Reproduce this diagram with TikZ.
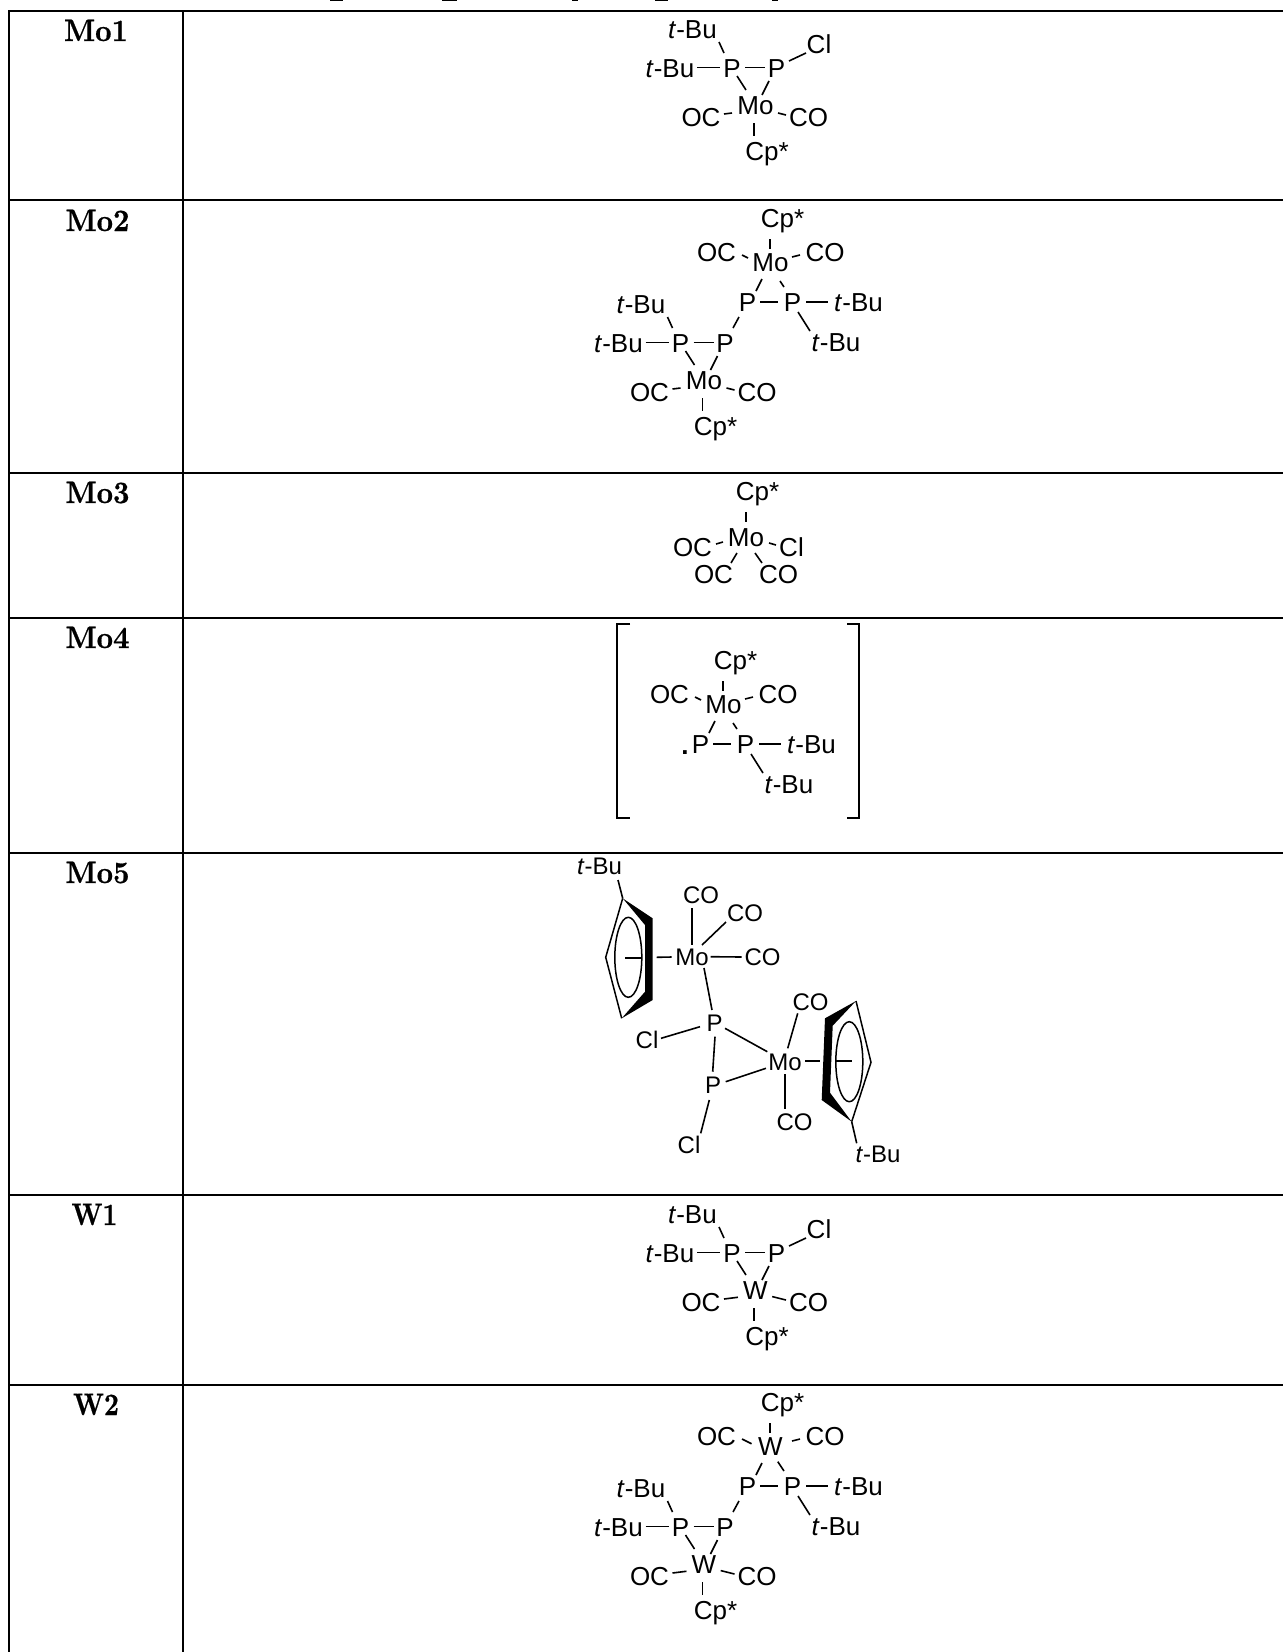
\documentclass[tikz,border=0pt]{standalone}
\usepackage{fontspec}
\usepackage{graphicx}
\usetikzlibrary{calc}
\newfontfamily\chemf{Liberation Sans}
\newfontfamily\labf[Extension=.otf,FakeBold=0.6]{lmroman10-bold}
\tikzset{
  atom/.style={inner sep=0pt,anchor=center,text height=17pt,text depth=0pt,font=\chemf\fontsize{26}{26}\selectfont},
  atomsm/.style={atom,text height=16pt,font=\chemf\fontsize{24}{24}\selectfont},
  bond/.style={line width=1.6pt},
  grid/.style={line width=2pt,line cap=butt},
  rowlab/.style={anchor=base,inner sep=0pt,font=\labf\fontsize{31}{31}\selectfont},
  ring/.style={line width=1.5pt,line join=miter},
  brack/.style={line width=1.7pt}
}
\newcommand{\tb}{\textit{t}-Bu}
\newcommand{\bd}[7][]{\draw[bond,#1] ($(#2)+(#3,#4)$) -- ($(#5)+(#6,#7)$);}
% lower unit: prefix, shift x, shift y, metal, gap
\newcommand{\lowerunit}[5]{
  \node[atom] (#1tA) at ({#2+692.5},{#3+29.5}) {\tb};
  \node[atom] (#1tB) at ({#2+670},{#3+68.5}) {\tb};
  \node[atom] (#1Pa) at ({#2+732},{#3+68.5}) {P};
  \node[atom] (#1Pb) at ({#2+776.5},{#3+68.5}) {P};
  \node[atom] (#1M)  at ({#2+755.5},{#3+106}) {#4};
  \node[atom] (#1OC) at ({#2+701},{#3+118}) {OC};
  \node[atom] (#1CO) at ({#2+808.5},{#3+118}) {CO};
  \node[atom] (#1Cp) at ({#2+767},{#3+151.5}) {Cp*};
  \bd{#1tA}{26.5}{12.5}{#1Pa}{-8}{-15.5}
  \bd{#1tB}{27}{-1}{#1Pa}{-12}{-1}
  \bd{#1Pa}{13}{-1}{#1Pb}{-11.5}{-1}
  \bd{#1Pa}{5}{7.5}{#1M}{-9.5}{-16}
  \bd{#1Pb}{-7.5}{12.5}{#1M}{6.5}{-11}
  \bd[shorten <=-#5pt]{#1M}{-23.5}{7}{#1OC}{23}{-4}
  \bd[shorten <=-#5pt]{#1M}{22.5}{7}{#1CO}{-22.5}{-3}
  \bd{#1M}{-1.5}{17}{#1Cp}{-13}{-15.5}
}
% upper unit: prefix, shift x, shift y, metal, gap
\newcommand{\upperunit}[5]{
  \node[atom] (#1M)  at ({#2+770.5},{#3+263}) {#4};
  \node[atom] (#1Cp) at ({#2+782.5},{#3+219}) {Cp*};
  \node[atom] (#1OC) at ({#2+716.5},{#3+252.5}) {OC};
  \node[atom] (#1CO) at ({#2+825},{#3+252.5}) {CO};
  \node[atom] (#1Pc) at ({#2+747.5},{#3+303}) {P};
  \node[atom] (#1Pd) at ({#2+792.5},{#3+303}) {P};
  \node[atom] (#1tR) at ({#2+858.5},{#3+303}) {\tb};
  \node[atom] (#1tL) at ({#2+836},{#3+342.5}) {\tb};
  \bd{#1Cp}{-12.5}{20}{#1M}{-0.5}{-14}
  \bd[shorten >=-#5pt]{#1OC}{25.5}{2.5}{#1M}{-22.5}{-5}
  \bd{#1M}{21.5}{-6}{#1CO}{-25}{2.5}
  \bd{#1M}{-8.5}{16}{#1Pc}{8.5}{-12}
  \bd[shorten <=-#5pt]{#1M}{9.5}{18}{#1Pd}{-8.5}{-16}
  \bd{#1Pc}{12.5}{-1}{#1Pd}{-14.5}{-1}
  \bd{#1Pd}{13.5}{-1}{#1tR}{-30.5}{-1}
  \bd{#1Pd}{5.5}{9}{#1tL}{-26}{-11.5}
}
\begin{document}
\begin{tikzpicture}[x=1pt,y=-1pt]
\useasboundingbox (0,0) rectangle (1283,1652);
\fill[white] (0,0) rectangle (1283,1652);
% clipped title remnants
\foreach \xa/\xb in {330/343,442/457,572/578,655/668,772/778}
  \draw[line width=1.2pt] (\xa,0.8) -- (\xb,0.8);
% table grid
\foreach \yy in {11,200,473,618,853,1195,1385}
  \draw[grid] (8,\yy) -- (1283,\yy);
\draw[grid] (9,10) -- (9,1652);
\draw[grid] (183,10) -- (183,1652);
% row labels
\node[rowlab] (r1) at (96,41) {\scalebox{.92}[1]{Mo1}};
\node[rowlab] (r2) at (97.5,231) {\scalebox{.92}[1]{Mo2}};
\node[rowlab] (r3) at (97.5,503) {\scalebox{.92}[1]{Mo3}};
\node[rowlab] (r4) at (97.5,648) {\scalebox{.92}[1]{Mo4}};
\node[rowlab] (r5) at (97.5,883) {\scalebox{.92}[1]{Mo5}};
\node[rowlab] (r6) at (94.5,1225) {\scalebox{.84}[1]{W1}};
\node[rowlab] (r7) at (96,1415) {\scalebox{.84}[1]{W2}};
% Mo1
\lowerunit{a}{0}{0}{Mo}{0}
\node[atom] (aCl) at (819,45) {Cl};
\bd{aPb}{12.5}{-7.5}{aCl}{-13}{8}
% Mo2
\upperunit{bu}{0}{0}{Mo}{0}
\lowerunit{bl}{-51.5}{275}{Mo}{0}
\bd{buPc}{-8.5}{14}{blPb}{8}{-15.5}
% Mo3
\node[atom] (cM) at (746,537.5) {Mo};
\node[atom] (cCp) at (757.5,492) {Cp*};
\node[atom] (cOa) at (692.5,548) {OC};
\node[atom] (cCl) at (791.5,548) {Cl};
\node[atom] (cOb) at (713.5,575) {OC};
\node[atom] (cCO) at (778.5,575) {CO};
\bd{cCp}{-11.5}{20}{cM}{0}{-15.5}
\bd{cM}{-23}{4.5}{cOa}{23.5}{-4}
\bd{cM}{23}{5.5}{cCl}{-15.5}{-3}
\bd{cM}{-9}{15.5}{cOb}{17.5}{-12}
\bd{cM}{9}{15.5}{cCO}{-16.5}{-12}
% Mo4
\upperunit{d}{-47}{442}{Mo}{0}
\node[anchor=base,inner sep=0pt,font=\chemf\bfseries\fontsize{26}{26}\selectfont] (dDot) at (685,754) {.};
\draw[brack] (630,624) -- (617,624) -- (617,818) -- (630,818);
\draw[brack] (847,624) -- (859,624) -- (859,818) -- (847,818);
% Mo5
\node[atomsm] (eTa) at (599.5,866) {\tb};
\node[atomsm] (eCa) at (701,895) {CO};
\node[atomsm] (eCb) at (745,913) {CO};
\node[atomsm] (eMa) at (692,957) {Mo};
\node[atomsm] (eCc) at (762.5,957) {CO};
\node[atomsm] (ePa) at (714.5,1023) {P};
\node[atomsm] (eLa) at (647,1040) {Cl};
\node[atomsm] (ePb) at (713,1085) {P};
\node[atomsm] (eLb) at (689,1145) {Cl};
\node[atomsm] (eMb) at (785,1062) {Mo};
\node[atomsm] (eCd) at (810.5,1002) {CO};
\node[atomsm] (eCe) at (794.5,1122) {CO};
\node[atomsm] (eTb) at (878,1154.5) {\tb};
\bd{eCa}{-9}{13}{eMa}{0}{-12}
\bd{eMa}{10}{-12}{eCb}{-19}{9}
\bd{eMa}{18.7}{-0.3}{eCc}{-20.8}{0}
\bd{eMa}{12}{11}{ePa}{-2.5}{-13}
\bd{ePa}{-14.5}{3.7}{eLa}{14}{-1.7}
\bd{ePa}{0.5}{13.7}{ePb}{-0.3}{-13.3}
\bd{ePa}{10.5}{5.3}{eMb}{-17.7}{-10.3}
\bd{ePb}{12.7}{-3.3}{eMb}{-19}{6.3}
\bd{ePb}{-3.7}{15}{eLb}{11.7}{-11.7}
\bd{eMb}{2.7}{-13.7}{eCd}{-12.8}{11.3}
\bd{eMb}{0}{12}{eCe}{-9.5}{-12.7}
% left Cp ring
\coordinate (La) at (622.7,898.3);
\coordinate (Lb) at (652.7,918.3);
\coordinate (Lc) at (652.7,1000);
\coordinate (Ld) at (621.7,1018.3);
\coordinate (Le) at (605.7,957.3);
\coordinate (Lf) at (645,925);
\coordinate (Lg) at (645,991.7);
\coordinate (Lo) at (628.3,957.3);
\coordinate (Lt) at (625,957.7);
\coordinate (Lu) at (641.7,957.7);
\coordinate (Lv) at (656.7,957.3);
\fill (La) -- (Lb) -- (Lc) -- (Ld) -- (Lg) -- (Lf) -- cycle;
\draw[ring] (La) -- (Le) -- (Ld);
\draw[ring] (Lo) ellipse [x radius=13.5,y radius=40];
\draw[bond] (Lt) -- (Lu);
\bd{Lv}{0}{0}{eMa}{-20.3}{0}
\bd{eTa}{18.5}{14}{La}{0}{0}
% right Cp ring
\coordinate (Ra) at (856,1001);
\coordinate (Rb) at (825,1018.3);
\coordinate (Rc) at (821.7,1100);
\coordinate (Rd) at (851.7,1121.7);
\coordinate (Re) at (871,1062.3);
\coordinate (Rf) at (832.7,1025.7);
\coordinate (Rg) at (830,1092.7);
\coordinate (Ro) at (849.3,1061.7);
\coordinate (Rt) at (835,1061);
\coordinate (Ru) at (851.7,1061);
\coordinate (Rv) at (820,1061);
\fill (Ra) -- (Rb) -- (Rc) -- (Rd) -- (Rg) -- (Rf) -- cycle;
\draw[ring] (Ra) -- (Re) -- (Rd);
\draw[ring] (Ro) ellipse [x radius=13.5,y radius=40];
\draw[bond] (Rt) -- (Ru);
\bd{eMb}{20}{-1}{Rv}{0}{0}
\bd{Rd}{0}{0}{eTb}{-21.3}{-11.2}
% W1
\lowerunit{f}{0}{1185}{W}{6}
\node[atom] (fCl) at (819,1230) {Cl};
\bd{fPb}{12.5}{-7.5}{fCl}{-13}{8}
% W2
\upperunit{gu}{0}{1184}{W}{4}
\lowerunit{gl}{-51.5}{1459}{W}{6}
\bd{guPc}{-8.5}{14}{glPb}{8}{-15.5}
\end{tikzpicture}
\end{document}
